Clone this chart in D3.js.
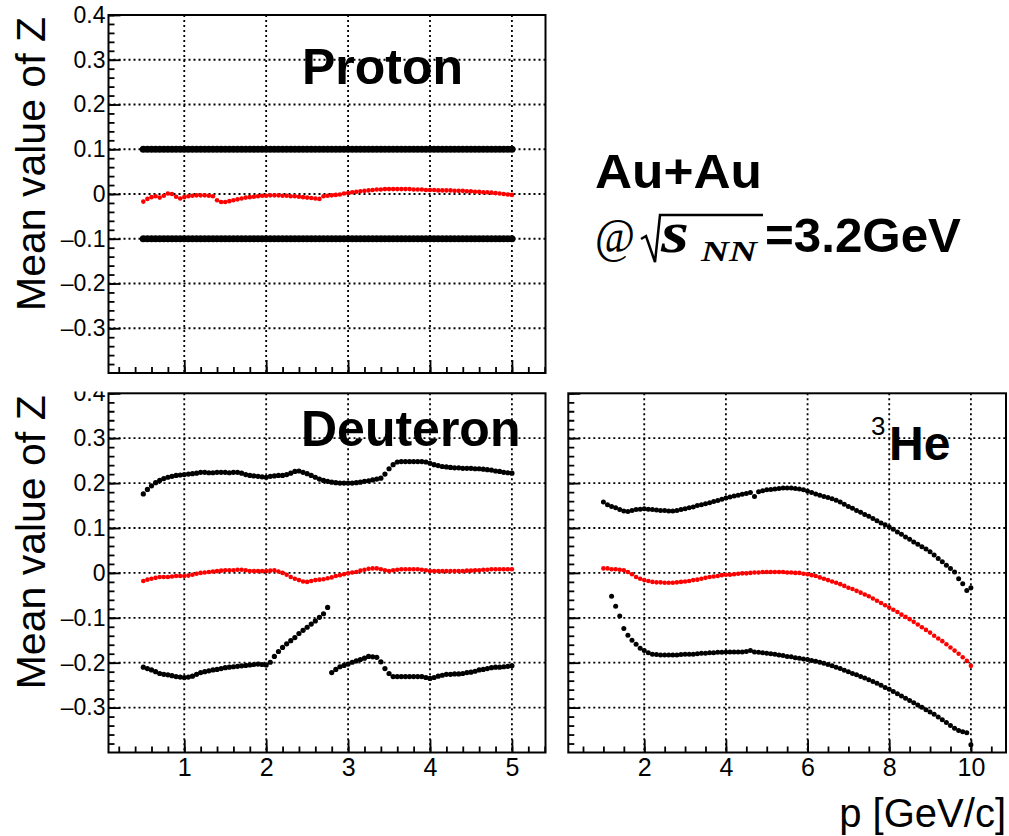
<!DOCTYPE html>
<html>
<head>
<meta charset="utf-8">
<script src="https://cdn.jsdelivr.net/npm/d3@7"></script>
<style>
  body { margin: 0; background: #fff; }
  .grid { stroke: #000; stroke-width: 1.8; stroke-dasharray: 2,3; }
</style>
</head>
<body>
<div id="chart"></div>
<script>
var width = 1009,
  height = 836;

// p bins for proton and deuteron [GeV/c]
const pLight = [0.5,0.55,0.6,0.65,0.7,0.75,0.8,0.85,0.9,0.95,
  1,1.05,1.1,1.15,1.2,1.25,1.3,1.35,1.4,1.45,
  1.5,1.55,1.6,1.65,1.7,1.75,1.8,1.85,1.9,1.95,
  2,2.05,2.1,2.15,2.2,2.25,2.3,2.35,2.4,2.45,
  2.5,2.55,2.6,2.65,2.7,2.75,2.8,2.85,2.9,2.95,
  3,3.05,3.1,3.15,3.2,3.25,3.3,3.35,3.4,3.45,
  3.5,3.55,3.6,3.65,3.7,3.75,3.8,3.85,3.9,3.95,
  4,4.05,4.1,4.15,4.2,4.25,4.3,4.35,4.4,4.45,
  4.5,4.55,4.6,4.65,4.7,4.75,4.8,4.85,4.9,4.95,
  5]

const protonMean = [-0.017,-0.011,-0.007,-0.005,-0.008,-0.004,0.001,0.0,-0.006,-0.010,
  -0.007,-0.005,-0.004,-0.003,-0.003,-0.003,-0.004,-0.005,-0.014,-0.018,
  -0.018,-0.016,-0.014,-0.012,-0.010,-0.008,-0.007,-0.006,-0.005,-0.004,
  -0.004,-0.003,-0.003,-0.003,-0.004,-0.004,-0.005,-0.005,-0.006,-0.007,
  -0.008,-0.009,-0.010,-0.011,-0.005,-0.004,-0.003,-0.002,-0.001,0.001,
  0.002,0.004,0.005,0.006,0.007,0.008,0.009,0.010,0.010,0.011,
  0.011,0.011,0.011,0.011,0.011,0.011,0.010,0.010,0.010,0.009,
  0.009,0.009,0.008,0.008,0.008,0.008,0.007,0.007,0.007,0.006,
  0.006,0.005,0.005,0.004,0.004,0.003,0.002,0.001,0.000,-0.001,
  -0.002]

const protonUp = [0.1,0.1,0.1,0.1,0.1,0.1,0.1,0.1,0.1,0.1,
  0.1,0.1,0.1,0.1,0.1,0.1,0.1,0.1,0.1,0.1,
  0.1,0.1,0.1,0.1,0.1,0.1,0.1,0.1,0.1,0.1,
  0.1,0.1,0.1,0.1,0.1,0.1,0.1,0.1,0.1,0.1,
  0.1,0.1,0.1,0.1,0.1,0.1,0.1,0.1,0.1,0.1,
  0.1,0.1,0.1,0.1,0.1,0.1,0.1,0.1,0.1,0.1,
  0.1,0.1,0.1,0.1,0.1,0.1,0.1,0.1,0.1,0.1,
  0.1,0.1,0.1,0.1,0.1,0.1,0.1,0.1,0.1,0.1,
  0.1,0.1,0.1,0.1,0.1,0.1,0.1,0.1,0.1,0.1,
  0.1]

const protonLow = [-0.1,-0.1,-0.1,-0.1,-0.1,-0.1,-0.1,-0.1,-0.1,-0.1,
  -0.1,-0.1,-0.1,-0.1,-0.1,-0.1,-0.1,-0.1,-0.1,-0.1,
  -0.1,-0.1,-0.1,-0.1,-0.1,-0.1,-0.1,-0.1,-0.1,-0.1,
  -0.1,-0.1,-0.1,-0.1,-0.1,-0.1,-0.1,-0.1,-0.1,-0.1,
  -0.1,-0.1,-0.1,-0.1,-0.1,-0.1,-0.1,-0.1,-0.1,-0.1,
  -0.1,-0.1,-0.1,-0.1,-0.1,-0.1,-0.1,-0.1,-0.1,-0.1,
  -0.1,-0.1,-0.1,-0.1,-0.1,-0.1,-0.1,-0.1,-0.1,-0.1,
  -0.1,-0.1,-0.1,-0.1,-0.1,-0.1,-0.1,-0.1,-0.1,-0.1,
  -0.1,-0.1,-0.1,-0.1,-0.1,-0.1,-0.1,-0.1,-0.1,-0.1,
  -0.1]

const deutMean = [-0.018,-0.015,-0.013,-0.011,-0.009,-0.009,-0.009,-0.008,-0.007,-0.007,
  -0.007,-0.006,-0.004,-0.002,0.000,0.001,0.002,0.003,0.004,0.005,
  0.006,0.006,0.006,0.007,0.007,0.006,0.004,0.004,0.004,0.004,
  0.004,0.005,0.006,0.003,0.000,-0.004,-0.009,-0.013,-0.016,-0.019,
  -0.020,-0.018,-0.016,-0.015,-0.014,-0.012,-0.010,-0.007,-0.005,-0.003,
  -0.001,0.001,0.002,0.005,0.007,0.009,0.010,0.010,0.008,0.006,
  0.004,0.006,0.007,0.008,0.008,0.008,0.008,0.008,0.007,0.006,
  0.004,0.004,0.004,0.004,0.004,0.004,0.004,0.004,0.004,0.005,
  0.005,0.006,0.006,0.007,0.007,0.008,0.008,0.008,0.008,0.008,
  0.008]

const deutUp = [0.176,0.186,0.194,0.201,0.206,0.210,0.213,0.215,0.217,0.218,
  0.219,0.220,0.221,0.222,0.224,0.224,0.223,0.223,0.224,0.224,
  0.224,0.223,0.224,0.224,0.222,0.219,0.217,0.216,0.215,0.214,
  0.213,0.215,0.216,0.217,0.217,0.219,0.222,0.226,0.227,0.224,
  0.221,0.217,0.213,0.209,0.206,0.204,0.202,0.201,0.200,0.200,
  0.200,0.200,0.201,0.202,0.204,0.205,0.207,0.209,0.211,0.220,
  0.232,0.241,0.247,0.248,0.248,0.248,0.248,0.248,0.248,0.247,
  0.244,0.241,0.239,0.237,0.236,0.235,0.234,0.234,0.233,0.233,
  0.233,0.232,0.232,0.231,0.230,0.229,0.227,0.226,0.224,0.223,
  0.222]

const deutLow = [-0.210,-0.213,-0.216,-0.220,-0.224,-0.226,-0.227,-0.229,-0.231,-0.232,
  -0.233,-0.232,-0.230,-0.226,-0.222,-0.220,-0.218,-0.216,-0.215,-0.213,
  -0.211,-0.210,-0.209,-0.208,-0.207,-0.206,-0.205,-0.204,-0.203,-0.204,
  -0.205,-0.199,-0.186,-0.175,-0.166,-0.158,-0.151,-0.144,-0.135,-0.128,
  -0.121,-0.114,-0.107,-0.099,-0.091,-0.077,-0.222,-0.215,-0.209,-0.206,
  -0.203,-0.199,-0.196,-0.193,-0.190,-0.186,-0.187,-0.188,-0.198,-0.213,
  -0.224,-0.231,-0.231,-0.231,-0.231,-0.231,-0.231,-0.231,-0.231,-0.233,
  -0.235,-0.233,-0.230,-0.228,-0.226,-0.226,-0.225,-0.225,-0.224,-0.222,
  -0.221,-0.219,-0.216,-0.215,-0.213,-0.211,-0.210,-0.210,-0.209,-0.208,
  -0.207]

// p bins for 3He [GeV/c]
const pHe = [1,1.1,1.2,1.3,1.4,1.5,1.6,1.7,1.8,1.9,
  2,2.1,2.2,2.3,2.4,2.5,2.6,2.7,2.8,2.9,
  3,3.1,3.2,3.3,3.4,3.5,3.6,3.7,3.8,3.9,
  4,4.1,4.2,4.3,4.4,4.5,4.6,4.7,4.8,4.9,
  5,5.1,5.2,5.3,5.4,5.5,5.6,5.7,5.8,5.9,
  6,6.1,6.2,6.3,6.4,6.5,6.6,6.7,6.8,6.9,
  7,7.1,7.2,7.3,7.4,7.5,7.6,7.7,7.8,7.9,
  8,8.1,8.2,8.3,8.4,8.5,8.6,8.7,8.8,8.9,
  9,9.1,9.2,9.3,9.4,9.5,9.6,9.7,9.8,9.9,
  10]

const heMean = [0.010,0.010,0.008,0.008,0.007,0.006,0.002,-0.003,-0.009,-0.013,
  -0.016,-0.018,-0.020,-0.021,-0.021,-0.022,-0.022,-0.022,-0.021,-0.020,
  -0.019,-0.018,-0.016,-0.015,-0.013,-0.011,-0.009,-0.008,-0.007,-0.005,
  -0.004,-0.004,-0.003,-0.002,-0.001,-0.001,0.000,0.001,0.001,0.002,
  0.002,0.002,0.002,0.002,0.002,0.001,0.001,0.000,0.000,-0.002,
  -0.003,-0.005,-0.007,-0.010,-0.013,-0.016,-0.019,-0.022,-0.025,-0.029,
  -0.033,-0.036,-0.040,-0.044,-0.048,-0.052,-0.057,-0.062,-0.067,-0.072,
  -0.077,-0.082,-0.087,-0.093,-0.098,-0.103,-0.109,-0.115,-0.121,-0.127,
  -0.133,-0.140,-0.146,-0.152,-0.159,-0.166,-0.173,-0.180,-0.188,-0.196,
  -0.207]

const heUp = [0.158,0.152,0.148,0.145,0.141,0.138,0.137,0.139,0.141,0.142,
  0.143,0.142,0.141,0.140,0.139,0.139,0.138,0.138,0.139,0.141,
  0.143,0.145,0.147,0.150,0.152,0.154,0.156,0.159,0.161,0.164,
  0.167,0.169,0.171,0.173,0.175,0.177,0.179,0.170,0.181,0.183,
  0.185,0.186,0.187,0.188,0.189,0.189,0.189,0.188,0.187,0.185,
  0.182,0.179,0.176,0.173,0.170,0.168,0.165,0.162,0.158,0.153,
  0.148,0.144,0.139,0.135,0.130,0.126,0.121,0.116,0.111,0.107,
  0.102,0.097,0.091,0.086,0.080,0.075,0.069,0.064,0.058,0.053,
  0.047,0.040,0.032,0.025,0.017,0.010,0.002,-0.013,-0.024,-0.039,
  -0.033]

const heLow = [null,null,-0.052,-0.074,-0.096,-0.124,-0.139,-0.150,-0.159,-0.168,
  -0.173,-0.178,-0.181,-0.182,-0.183,-0.183,-0.183,-0.183,-0.183,-0.182,
  -0.181,-0.181,-0.181,-0.180,-0.179,-0.179,-0.178,-0.178,-0.177,-0.177,
  -0.176,-0.176,-0.176,-0.176,-0.176,-0.175,-0.173,-0.176,-0.177,-0.178,
  -0.179,-0.180,-0.181,-0.183,-0.184,-0.186,-0.187,-0.189,-0.190,-0.192,
  -0.193,-0.195,-0.197,-0.199,-0.201,-0.204,-0.207,-0.210,-0.213,-0.217,
  -0.220,-0.224,-0.227,-0.231,-0.234,-0.238,-0.242,-0.246,-0.250,-0.255,
  -0.259,-0.264,-0.269,-0.274,-0.279,-0.284,-0.289,-0.294,-0.299,-0.305,
  -0.310,-0.315,-0.321,-0.327,-0.333,-0.340,-0.346,-0.351,-0.354,-0.356,
  -0.383]

const yTicks = [-0.3, -0.2, -0.1, 0, 0.1, 0.2, 0.3, 0.4]
const xTicksLight = [1, 2, 3, 4, 5]
const xTicksHe = [2, 4, 6, 8, 10]

var sans = "Liberation Sans, Arial, sans-serif",
  serif = "Liberation Serif, Times New Roman, serif";

var svg = d3.select("#chart").append("svg")
  .attr("width", width)
  .attr("height", height)
  .attr("viewBox", "0 0 " + width + " " + height)
  .attr("font-family", sans);

svg.append("rect").attr("width", width).attr("height", height).attr("fill", "#fff");

// lower pads cut off what sticks out above them (the 0.4 label)
svg.append("clipPath").attr("id", "lowpad")
  .append("rect").attr("x", 0).attr("y", 391.5).attr("width", width).attr("height", height - 391.5);

function fmtY(d) {
  if (d === 0) return "0";
  return (d < 0 ? "\u2013" : "") + Math.abs(d).toFixed(1);
}

function styleAxis(sel) {
  sel.select(".domain").remove();
  sel.selectAll(".tick line").attr("stroke", "#000").attr("stroke-width", 1.8);
  sel.selectAll(".tick text").attr("fill", "#000");
}

function drawPanel(o) {
  var g = svg.append("g").attr("clip-path", o.clip ? "url(#" + o.clip + ")" : null);

  var x = d3.scaleLinear().domain(o.xDomain).range([o.left, o.right]);
  var y = d3.scaleLinear().domain([-0.4, 0.4]).range([o.bottom, o.top]);

  // dotted grid
  g.append("g").selectAll("line")
    .data(o.xTicks).enter().append("line")
    .attr("class", "grid")
    .attr("x1", d => x(d)).attr("x2", d => x(d))
    .attr("y1", o.top).attr("y2", o.bottom);
  g.append("g").selectAll("line")
    .data(yTicks.filter(d => d < 0.4)).enter().append("line")
    .attr("class", "grid")
    .attr("x1", o.left).attr("x2", o.right)
    .attr("y1", d => y(d)).attr("y2", d => y(d));

  // minor + major ticks, inside the frame
  g.append("g").attr("transform", "translate(" + o.left + ",0)")
    .call(d3.axisLeft(y).tickValues(d3.range(-0.38, 0.401, 0.02)).tickSize(-6).tickFormat(""))
    .call(styleAxis);
  g.append("g").attr("transform", "translate(" + o.left + ",0)")
    .call(d3.axisLeft(y).tickValues(yTicks).tickSize(-12).tickPadding(3)
      .tickFormat(o.yLabels ? fmtY : ""))
    .call(styleAxis)
    .attr("font-size", 23)
    .attr("font-family", sans);

  g.append("g").attr("transform", "translate(0," + o.bottom + ")")
    .call(d3.axisBottom(x).tickValues(o.xMinor).tickSize(-6).tickFormat(""))
    .call(styleAxis);
  g.append("g").attr("transform", "translate(0," + o.bottom + ")")
    .call(d3.axisBottom(x).tickValues(o.xTicks).tickSize(-13).tickPadding(6)
      .tickFormat(o.xLabels ? d3.format("d") : ""))
    .call(styleAxis)
    .attr("font-size", 25)
    .attr("font-family", sans);

  // markers
  o.series.forEach(s => {
    var pts = s.values.map((v, i) => [o.p[i], v]).filter(d => d[1] !== null);
    g.append("g").selectAll("circle")
      .data(pts).enter().append("circle")
      .attr("cx", d => x(d[0]))
      .attr("cy", d => y(d[1]))
      .attr("r", s.r)
      .attr("fill", s.color);
  });

  g.append("rect")
    .attr("x", o.left).attr("y", o.top)
    .attr("width", o.right - o.left).attr("height", o.bottom - o.top)
    .attr("fill", "none").attr("stroke", "#000").attr("stroke-width", 2);

  if (o.yTitle) {
    g.append("text")
      .attr("transform", "translate(45," + (o.top + 2) + ") rotate(-90)")
      .attr("text-anchor", "end")
      .attr("font-size", 41)
      .text("Mean value of Z");
  }
  return g;
}

var lightMinor = d3.range(0.2, 5.41, 0.2);
var heMinor = d3.range(0.5, 10.81, 0.5);

var gp = drawPanel({
  left: 108.5, right: 545.5, top: 15, bottom: 373,
  xDomain: [0.075, 5.41], xTicks: xTicksLight, xMinor: lightMinor,
  p: pLight, yLabels: true, xLabels: false, yTitle: true,
  series: [
    { values: protonUp, color: "#000", r: 3.6 },
    { values: protonLow, color: "#000", r: 3.6 },
    { values: protonMean, color: "#ff0000", r: 2.3 }
  ]
});
gp.append("text").attr("x", 302).attr("y", 84)
  .attr("font-size", 50).attr("font-weight", "bold").text("Proton");

var gd = drawPanel({
  left: 108.5, right: 545.5, top: 393.3, bottom: 752.5, clip: "lowpad",
  xDomain: [0.075, 5.41], xTicks: xTicksLight, xMinor: lightMinor,
  p: pLight, yLabels: true, xLabels: true, yTitle: true,
  series: [
    { values: deutUp, color: "#000", r: 2.6 },
    { values: deutLow, color: "#000", r: 2.6 },
    { values: deutMean, color: "#ff0000", r: 2.3 }
  ]
});
gd.append("text").attr("x", 301).attr("y", 446)
  .attr("font-size", 50).attr("font-weight", "bold").text("Deuteron");

var gh = drawPanel({
  left: 568.3, right: 1006, top: 393.3, bottom: 752.5, clip: "lowpad",
  xDomain: [0.14, 10.86], xTicks: xTicksHe, xMinor: heMinor,
  p: pHe, yLabels: false, xLabels: true, yTitle: false,
  series: [
    { values: heUp, color: "#000", r: 2.5 },
    { values: heLow, color: "#000", r: 2.5 },
    { values: heMean, color: "#ff0000", r: 2.3 }
  ]
});
gh.append("text").attr("x", 871).attr("y", 435).attr("font-size", 26).text("3");
gh.append("text").attr("x", 889).attr("y", 460)
  .attr("font-size", 48).attr("font-weight", "bold").text("He");

// x axis title
svg.append("text")
  .attr("x", 1006).attr("y", 827)
  .attr("text-anchor", "end")
  .attr("font-size", 40)
  .text("p [GeV/c]");

// collision system label
svg.append("text").attr("x", 595).attr("y", 188)
  .attr("font-size", 48).attr("font-weight", "bold")
  .attr("textLength", 167).attr("lengthAdjust", "spacingAndGlyphs")
  .text("Au+Au");

var lab = svg.append("g").attr("transform", "translate(595,252)");
lab.append("text").attr("x", 0).attr("y", 0)
  .attr("font-family", serif).attr("font-size", 48)
  .attr("textLength", 40).attr("lengthAdjust", "spacingAndGlyphs").text("@");
lab.append("path")
  .attr("d", "M46,-13 L51,-16 L60,10 L65,-37 L168,-37")
  .attr("fill", "none").attr("stroke", "#000").attr("stroke-width", 2.5);
lab.append("text").attr("x", 66).attr("y", 0)
  .attr("font-family", serif).attr("font-style", "italic")
  .attr("font-weight", "bold").attr("font-size", 60)
  .attr("textLength", 28).attr("lengthAdjust", "spacingAndGlyphs").text("s");
lab.append("text").attr("x", 106).attr("y", 9)
  .attr("font-family", serif).attr("font-style", "italic")
  .attr("font-weight", "bold").attr("font-size", 30)
  .attr("textLength", 56).attr("lengthAdjust", "spacingAndGlyphs").text("NN");
lab.append("text").attr("x", 170).attr("y", 0)
  .attr("font-size", 48).attr("font-weight", "bold")
  .attr("textLength", 196).attr("lengthAdjust", "spacingAndGlyphs")
  .text("=3.2GeV");
</script>
</body>
</html>
